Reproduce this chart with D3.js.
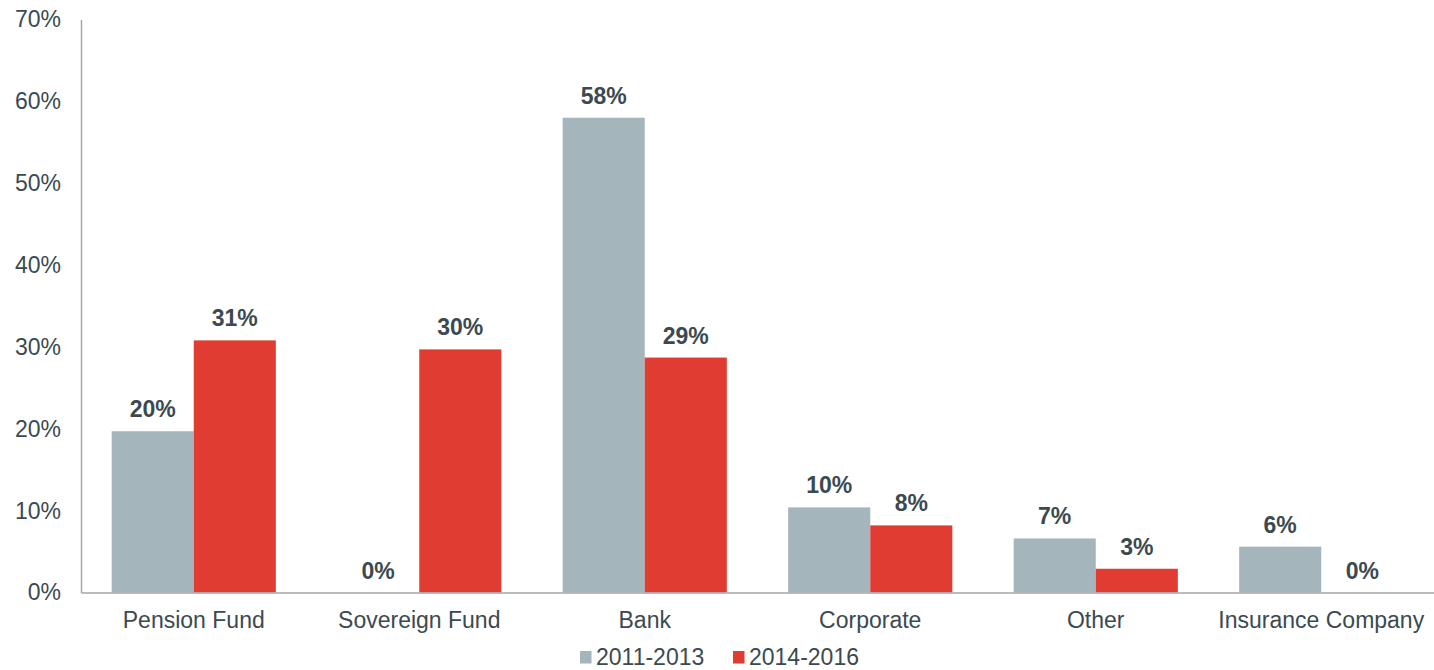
<!DOCTYPE html>
<html>
<head>
<meta charset="utf-8">
<script src="https://cdn.jsdelivr.net/npm/d3@7/dist/d3.min.js"></script>
<style>
  html, body { margin: 0; padding: 0; background: #fff; }
  svg { display: block; font-family: "Liberation Sans", Arial, sans-serif; }
</style>
</head>
<body>
<svg id="chart" width="1434" height="670"></svg>
<script>
// Investor types and share of deals in each period
const categories = ["Pension Fund", "Sovereign Fund", "Bank", "Corporate", "Other", "Insurance Company"];
const seriesNames = ["2011-2013", "2014-2016"];
const values2011 = [0.197, 0.0, 0.58, 0.104, 0.066, 0.056];
const values2016 = [0.308, 0.297, 0.287, 0.082, 0.029, 0.0];
const yTicks = [0, 0.1, 0.2, 0.3, 0.4, 0.5, 0.6, 0.7];
const colors = ["#a5b5bc", "#e03c31"];

const textColor = "#3b4a50";
const axisColor = "#a6a6a6";
const fontSize = 23;

const svg = d3.select("#chart");
const plotLeft = 81, plotRight = 1434, plotTop = 19.5, plotBottom = 592.5;

const x0 = d3.scaleBand()
  .domain(categories)
  .range([plotLeft, plotRight])
  .paddingInner(0.272)
  .paddingOuter(0.136);

const x1 = d3.scaleBand()
  .domain(seriesNames)
  .range([0, x0.bandwidth()])
  .padding(0);

const y = d3.scaleLinear().domain([0, 0.7]).range([plotBottom, plotTop]);

const rows = categories.map((c, i) => ({
  category: c,
  values: [
    { series: seriesNames[0], value: values2011[i], color: colors[0] },
    { series: seriesNames[1], value: values2016[i], color: colors[1] }
  ]
}));

// Y axis: tick labels only, with a plain vertical rule
const yAxis = d3.axisLeft(y).tickValues(yTicks).tickFormat(d3.format(".0%")).tickSize(0).tickPadding(20);
const gy = svg.append("g").attr("transform", `translate(${plotLeft},0)`).call(yAxis);
gy.select(".domain").attr("stroke", axisColor).attr("stroke-width", 1.5);
gy.selectAll("text")
  .attr("fill", textColor)
  .attr("font-size", fontSize)
  .attr("font-family", "Liberation Sans, Arial, sans-serif");

// Bars
const groups = svg.append("g").selectAll("g")
  .data(rows)
  .join("g")
  .attr("transform", d => `translate(${x0(d.category)},0)`);

groups.selectAll("rect")
  .data(d => d.values)
  .join("rect")
  .attr("x", d => x1(d.series))
  .attr("width", x1.bandwidth())
  .attr("y", d => y(d.value))
  .attr("height", d => y(0) - y(d.value))
  .attr("fill", d => d.color);

// Value labels above each bar
groups.selectAll("text")
  .data(d => d.values)
  .join("text")
  .attr("x", d => x1(d.series) + x1.bandwidth() / 2)
  .attr("y", d => y(d.value) - 14)
  .attr("text-anchor", "middle")
  .attr("font-size", fontSize)
  .attr("font-weight", "bold")
  .attr("fill", textColor)
  .text(d => d3.format(".0%")(d.value));

// X axis: baseline and category names
const xAxis = d3.axisBottom(x0).tickSize(0).tickPadding(19.5);
const gx = svg.append("g").attr("transform", `translate(0,${plotBottom})`).call(xAxis);
gx.select(".domain").attr("stroke", axisColor).attr("stroke-width", 1.5);
gx.selectAll("text")
  .attr("fill", textColor)
  .attr("font-size", fontSize)
  .attr("font-family", "Liberation Sans, Arial, sans-serif");

// Legend
const legend = svg.append("g").attr("transform", "translate(580,651)");
const legendX = [0, 153];
seriesNames.forEach((name, i) => {
  const g = legend.append("g").attr("transform", `translate(${legendX[i]},0)`);
  g.append("rect").attr("width", 11.5).attr("height", 12.5).attr("fill", colors[i]);
  g.append("text")
    .attr("x", 16)
    .attr("y", 14)
    .attr("font-size", fontSize)
    .attr("fill", textColor)
    .text(name);
});
</script>
</body>
</html>
